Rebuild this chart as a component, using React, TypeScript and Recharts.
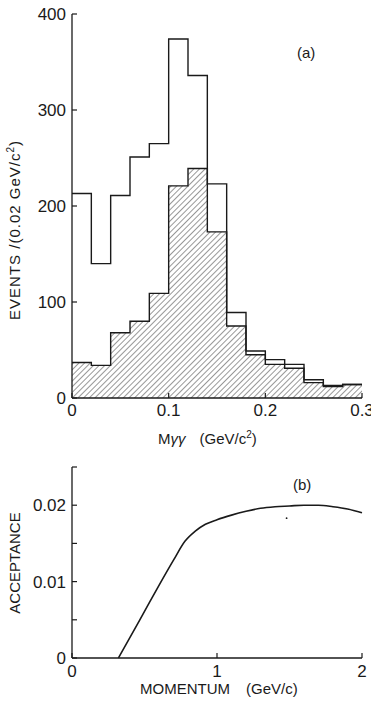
import React from "react";
import {
  ComposedChart,
  Area,
  Line,
  Scatter,
  XAxis,
  YAxis,
} from "recharts";

// (a) histogram, 0.02 GeV/c^2 bins
const binEdges = [0, 0.02, 0.04, 0.06, 0.08, 0.1, 0.12, 0.14, 0.16, 0.18, 0.2, 0.22, 0.24, 0.26, 0.28, 0.3];
const allEvents = [213, 140, 211, 251, 265, 374, 336, 223, 89, 49, 40, 35, 19, 13, 14];
const hatchedEvents = [37, 34, 68, 80, 109, 221, 239, 173, 75, 45, 35, 31, 16, 12, 14];
const massTicks = [0, 0.1, 0.2, 0.3];
const eventTicks = [0, 100, 200, 300, 400];

// (b) acceptance vs momentum
const momentum = [0.32, 0.4, 0.5, 0.6, 0.7, 0.78, 0.85, 0.92, 1.0, 1.1, 1.2, 1.3, 1.4, 1.5, 1.6, 1.7, 1.8, 1.9, 2.0];
const acceptance = [0, 0.0027, 0.0061, 0.0095, 0.0128, 0.0153, 0.0166, 0.0175, 0.0181, 0.0187, 0.0192, 0.0196, 0.0198, 0.0199, 0.02, 0.02, 0.0198, 0.0195, 0.019];
const speck = [{ p: 1.48, a: 0.0183 }];
const momentumTicks = [0, 1, 2];
const acceptanceTicks = [0, 0.005, 0.01, 0.015, 0.02, 0.025];

const histData = binEdges.map((x, i) => ({
  x,
  all: allEvents[Math.min(i, allEvents.length - 1)],
  hatched: hatchedEvents[Math.min(i, hatchedEvents.length - 1)],
}));
const accData = momentum.map((p, i) => ({ p, a: acceptance[i] }));

const INK = "#1a1a1a";
const FONT = "'Liberation Sans', Arial, sans-serif";
const tickStyle = { fill: INK, fontSize: 17, fontFamily: FONT };
const axisLine = { stroke: INK, strokeWidth: 1.3 };
const tickLine = { stroke: INK, strokeWidth: 1.2 };

const fmtMass = (v: number) => (v === 0 ? "0" : v.toFixed(1));
const fmtAcc = (v: number) =>
  v === 0 ? "0" : Math.abs(v - 0.01) < 1e-6 ? "0.01" : Math.abs(v - 0.02) < 1e-6 ? "0.02" : "";
const blank = () => "";

function HistPanel() {
  return (
    <ComposedChart width={371} height={440} data={histData} margin={{ top: 14, right: 9, bottom: 0, left: 0 }}>
      <defs>
        <pattern id="hatch" width="4" height="4" patternUnits="userSpaceOnUse" patternTransform="rotate(45)">
          <line x1="0" y1="0" x2="0" y2="4" stroke={INK} strokeWidth="0.9" />
        </pattern>
      </defs>
      <XAxis
        dataKey="x"
        type="number"
        domain={[0, 0.3]}
        ticks={massTicks}
        tickFormatter={fmtMass}
        height={42}
        tickSize={-5}
        tickMargin={11}
        axisLine={axisLine}
        tickLine={tickLine}
        tick={tickStyle}
        interval={0}
      />
      <XAxis
        xAxisId="top"
        orientation="top"
        type="number"
        domain={[0, 0.3]}
        ticks={massTicks}
        tickFormatter={blank}
        height={0}
        tickSize={-5}
        axisLine={axisLine}
        tickLine={tickLine}
      />
      <YAxis
        type="number"
        domain={[0, 400]}
        ticks={eventTicks}
        width={72}
        tickSize={-5}
        tickMargin={11}
        axisLine={axisLine}
        tickLine={tickLine}
        tick={tickStyle}
        interval={0}
      />
      <YAxis
        yAxisId="right"
        orientation="right"
        type="number"
        domain={[0, 400]}
        ticks={eventTicks}
        tickFormatter={blank}
        width={0}
        tickSize={-5}
        axisLine={axisLine}
        tickLine={tickLine}
      />
      <Area
        dataKey="hatched"
        type="stepAfter"
        stroke={INK}
        strokeWidth={1.4}
        fill="url(#hatch)"
        fillOpacity={1}
        isAnimationActive={false}
      />
      <Area
        dataKey="all"
        type="stepAfter"
        stroke={INK}
        strokeWidth={1.4}
        fill="none"
        isAnimationActive={false}
      />
    </ComposedChart>
  );
}

function AcceptancePanel() {
  return (
    <ComposedChart width={371} height={262} data={accData} margin={{ top: 27, right: 9, bottom: 0, left: 0 }}>
      <XAxis
        dataKey="p"
        type="number"
        domain={[0, 2]}
        ticks={momentumTicks}
        height={44}
        tickSize={-5}
        tickMargin={12}
        axisLine={axisLine}
        tickLine={tickLine}
        tick={tickStyle}
        interval={0}
      />
      <XAxis
        xAxisId="top"
        orientation="top"
        type="number"
        domain={[0, 2]}
        ticks={momentumTicks}
        tickFormatter={blank}
        height={0}
        tickSize={-5}
        axisLine={axisLine}
        tickLine={tickLine}
      />
      <YAxis
        type="number"
        domain={[0, 0.025]}
        ticks={acceptanceTicks}
        tickFormatter={fmtAcc}
        width={72}
        tickSize={-5}
        tickMargin={11}
        axisLine={axisLine}
        tickLine={tickLine}
        tick={tickStyle}
        interval={0}
      />
      <YAxis
        yAxisId="right"
        orientation="right"
        type="number"
        domain={[0, 0.025]}
        ticks={acceptanceTicks}
        tickFormatter={blank}
        width={0}
        tickSize={-5}
        axisLine={axisLine}
        tickLine={tickLine}
      />
      <Line dataKey="a" type="monotone" stroke={INK} strokeWidth={1.6} dot={false} isAnimationActive={false} />
      <Scatter data={speck} dataKey="a" fill={INK} shape={(props: any) => <circle cx={props.cx} cy={props.cy} r={0.9} fill={INK} />} isAnimationActive={false} />
    </ComposedChart>
  );
}

export default function App() {
  const text = { fill: INK, fontFamily: FONT, fontSize: 15 };
  return (
    <div style={{ position: "absolute", left: 0, top: 0, width: 371, height: 702, background: "#fff" }}>
      <div style={{ position: "absolute", left: 0, top: 0 }}>
        <HistPanel />
      </div>
      <div style={{ position: "absolute", left: 0, top: 440 }}>
        <AcceptancePanel />
      </div>
      <svg width={371} height={702} style={{ position: "absolute", left: 0, top: 0, pointerEvents: "none" }}>
        <text {...text} x={297} y={58}>(a)</text>
        <text {...text} x={293} y={490}>(b)</text>
        <text {...text} transform="translate(20,230) rotate(-90)" textAnchor="middle" letterSpacing={1}>
          EVENTS /(0.02 GeV/c<tspan fontSize={10} dy={-6}>2</tspan><tspan dy={6}>)</tspan>
        </text>
        <text {...text} x={158} y={444}>
          M<tspan fontStyle="italic">γγ</tspan>
          <tspan dx={14}>(GeV/c</tspan>
          <tspan fontSize={10} dy={-6}>2</tspan>
          <tspan dy={6}>)</tspan>
        </text>
        <text {...text} transform="translate(20,563) rotate(-90)" textAnchor="middle">ACCEPTANCE</text>
        <text {...text} x={140} y={694}>
          MOMENTUM<tspan dx={16}>(GeV/c)</tspan>
        </text>
      </svg>
    </div>
  );
}
